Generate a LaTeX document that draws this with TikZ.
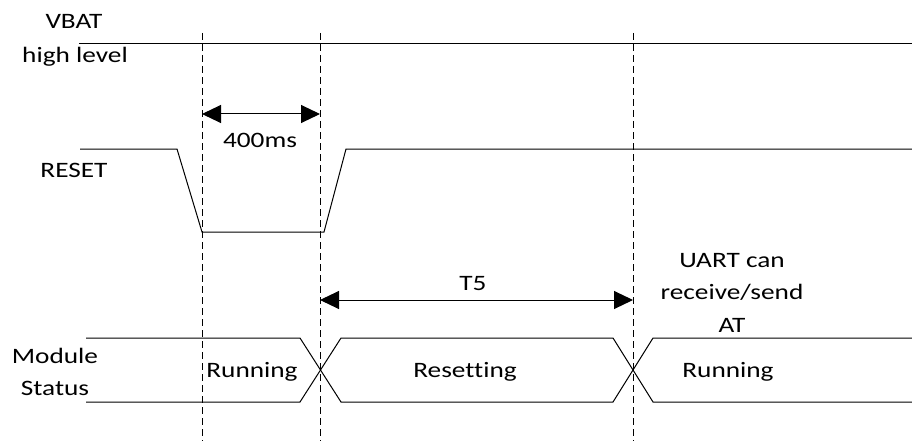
\documentclass[tikz,border=0pt]{standalone}
\usepackage{fontspec}
\setmainfont{Carlito}[Ligatures=CommonOff]
\usetikzlibrary{arrows.meta}
\begin{document}
\begin{tikzpicture}[x=1pt,y=-1pt,
  txt/.style={font=\fontsize{22}{32.5}\selectfont, xscale=1.24, inner sep=0pt, anchor=base, align=center},
  sig/.style={line width=1pt, line join=miter},
  guide/.style={dash pattern=on 7pt off 4pt, line width=0.9pt},
  dimarrow/.style={{Triangle[length=19pt,width=18pt]}-{Triangle[length=19pt,width=18pt]}, line width=1pt}]
\useasboundingbox (0,0) rectangle (912,441);
% guide lines
\coordinate (g1t) at (202,33);  \coordinate (g1b) at (202,441);
\coordinate (g2t) at (320,33);  \coordinate (g2b) at (320,441);
\coordinate (g3t) at (633,33);  \coordinate (g3b) at (633,441);
\draw[guide] (g1t) -- (g1b);
\draw[guide] (g2t) -- (g2b);
\draw[guide] (g3t) -- (g3b);
% VBAT
\coordinate (v0) at (79,44); \coordinate (v1) at (912,44);
\draw[sig] (v0) -- (v1);
\node[txt] (vbat) at (74,29) {VBAT};
\node[txt] (hl) at (75,63) {high level};
% RESET
\coordinate (r0) at (80,149); \coordinate (r1) at (177,149);
\coordinate (r2) at (202,232); \coordinate (r3) at (324,232);
\coordinate (r4) at (346,149); \coordinate (r5) at (912,149);
\draw[sig] (r0) -- (r1) -- (r2) -- (r3) -- (r4) -- (r5);
\node[txt] (reset) at (74,177) {RESET};
% 400ms
\coordinate (a0) at (202,114); \coordinate (a1) at (320,114);
\draw[dimarrow] (a0) -- (a1);
\node[txt] (t400) at (260,147) {400ms};
% T5
\coordinate (b0) at (320,300); \coordinate (b1) at (633,300);
\draw[dimarrow] (b0) -- (b1);
\node[txt] (t5) at (473,290) {T5};
% Module status
\coordinate (m0t) at (86,338); \coordinate (m0b) at (86,402);
\coordinate (m1t) at (300,338); \coordinate (m1b) at (300,402);
\coordinate (m2t) at (341,338); \coordinate (m2b) at (341,402);
\coordinate (m3t) at (613,338); \coordinate (m3b) at (613,402);
\coordinate (m4t) at (653,338); \coordinate (m4b) at (653,402);
\coordinate (m5t) at (912,338); \coordinate (m5b) at (912,402);
\draw[sig] (m0t) -- (m1t) -- (m2b) -- (m3b) -- (m4t) -- (m5t);
\draw[sig] (m0b) -- (m1b) -- (m2t) -- (m3t) -- (m4b) -- (m5b);
\node[txt] (mod) at (55,363) {Module};
\node[txt] (stat) at (55,395) {Status};
\node[txt] (run1) at (252,377) {Running};
\node[txt] (rst) at (465,377) {Resetting};
\node[txt] (run2) at (728,377) {Running};
\node[txt] (uart) at (732,332) {UART can\\receive/send\\AT};
\end{tikzpicture}
\end{document}
